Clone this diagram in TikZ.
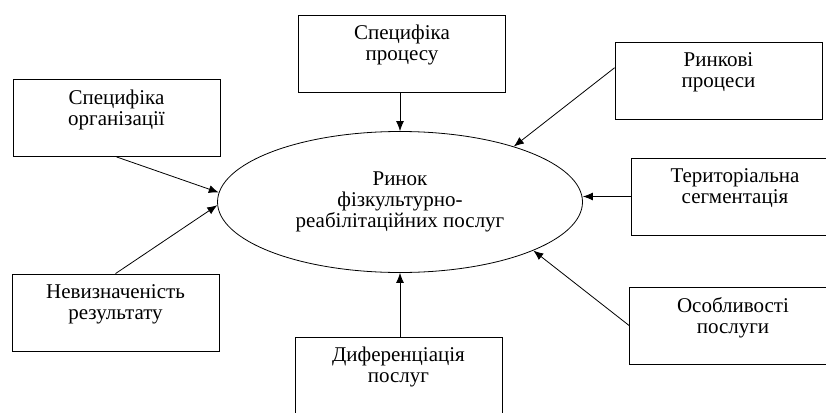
\documentclass[tikz,border=0pt]{standalone}
\usepackage{fontspec}
\setmainfont{Liberation Serif}
\usetikzlibrary{shapes.geometric,arrows.meta}
\begin{document}
\begin{tikzpicture}[x=1pt,y=-1pt,
  box/.style={draw, line width=0.8pt, minimum width=207pt, minimum height=77pt, inner sep=0pt, text width=200pt, align=center, font=\fontsize{21}{21}\selectfont},
  oval/.style={draw, ellipse, line width=0.8pt, minimum width=365pt, minimum height=141pt, inner sep=0pt, align=center, font=\fontsize{21}{21}\selectfont},
  arr/.style={line width=0.8pt, -{Latex[length=10pt,width=8pt]}}]
\useasboundingbox[fill=white] (0,0) rectangle (826,412);
\node[oval] (mkt) at (400,202) {Ринок\\фізкультурно-\\реабілітаційних послуг};
\node[box] (proc) at (402,53.5) {Специфіка\\процесу\\\mbox{}};
\node[box] (org) at (116.5,118) {Специфіка\\організації\\\mbox{}};
\node[box] (unc) at (115.5,312.5) {Невизначеність\\результату\\\mbox{}};
\node[box] (mrk) at (718.5,80.5) {Ринкові\\процеси\\\mbox{}};
\node[box] (terr) at (735,196.5) {Територіальна\\сегментація\\\mbox{}};
\node[box] (osob) at (733,325.5) {Особливості\\послуги\\\mbox{}};
\node[box] (diff) at (398.5,375.5) {Диференціація\\послуг\\\mbox{}};
\draw[arr] (mkt.north |- proc.south) -- (mkt.north);
\draw[arr] (mkt.south |- diff.north) -- (mkt.south);
\draw[arr] (org.south) -- (mkt.177);
\draw[arr] (unc.north) -- (mkt.181);
\draw[arr] (mrk.173) -- (mkt.26);
\draw[arr] (terr.west) -- (terr.west -| mkt.east);
\draw[arr] (osob.west) -- (mkt.-20);
\end{tikzpicture}
\end{document}
